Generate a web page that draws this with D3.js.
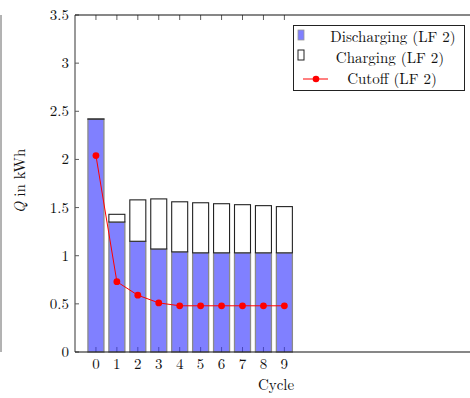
<!DOCTYPE html>
<html>
<head>
<meta charset="utf-8">
<script src="https://cdn.jsdelivr.net/npm/d3@7"></script>
<style>
 body { margin: 0; background: #fff; }
 text { font-family: "Latin Modern Roman", "Liberation Serif", serif; fill: #111; }
</style>
</head>
<body>
<svg id="chart" width="470" height="398"></svg>
<script>
// data
var cycles = [0, 1, 2, 3, 4, 5, 6, 7, 8, 9]
var discharging = [2.42, 1.35, 1.15, 1.07, 1.04, 1.03, 1.03, 1.03, 1.03, 1.03]
var charging = [0.0, 0.08, 0.43, 0.52, 0.52, 0.52, 0.51, 0.50, 0.49, 0.48]
var cutoff = [2.04, 0.73, 0.59, 0.51, 0.48, 0.48, 0.48, 0.48, 0.48, 0.48]
var yTicks = [0, 0.5, 1, 1.5, 2, 2.5, 3, 3.5]

var svg = d3.select("#chart")
var pLeft = 75, pRight = 477, pTop = 15, pBottom = 352

// linear x so cycle 0 sits one unit in from the axis
var x = d3.scaleLinear().domain([-1, 18.2]).range([pLeft, pRight])
var y = d3.scaleLinear().domain([0, 3.5]).range([pBottom, pTop])
var bw = 16
var fs = 15

// stray frame line at the very left
svg.append("line").attr("x1", 1).attr("x2", 1).attr("y1", pTop).attr("y2", pBottom)
   .attr("stroke", "#666").attr("stroke-width", 1)

var g = svg.append("g")

// discharging bars
g.selectAll("rect.dis")
   .data(cycles)
   .enter().append("rect")
   .attr("class", "dis")
   .attr("x", function(d){ return x(d) - bw/2 })
   .attr("width", bw)
   .attr("y", function(d, i){ return y(discharging[i]) })
   .attr("height", function(d, i){ return y(0) - y(discharging[i]) })
   .attr("fill", "#8080ff")
   .attr("stroke", "#8a8a8a")
   .attr("stroke-width", 1.3)

// charging bars stacked on top (zero ones still show their edge)
g.selectAll("rect.chg")
   .data(cycles)
   .enter().append("rect")
   .attr("class", "chg")
   .attr("x", function(d){ return x(d) - bw/2 })
   .attr("width", bw)
   .attr("y", function(d, i){ return y(discharging[i] + charging[i]) })
   .attr("height", function(d, i){ return Math.max(0.2, y(discharging[i]) - y(discharging[i] + charging[i])) })
   .attr("fill", "#fff")
   .attr("stroke", "#222")
   .attr("stroke-width", 1.1)

// x ticks: inward at bottom and top
cycles.forEach(function(c){
    g.append("line").attr("x1", x(c)).attr("x2", x(c)).attr("y1", pBottom).attr("y2", pBottom - 5)
     .attr("stroke", "#3a3aa8").attr("stroke-width", 0.8)
    g.append("line").attr("x1", x(c)).attr("x2", x(c)).attr("y1", pTop).attr("y2", pTop + 5)
     .attr("stroke", "#333").attr("stroke-width", 0.8)
    g.append("text").attr("x", x(c)).attr("y", pBottom + 17)
     .attr("text-anchor", "middle").attr("font-size", fs).text(c)
})

// y ticks and labels
yTicks.forEach(function(t){
    g.append("line").attr("x1", pLeft).attr("x2", pLeft + 4).attr("y1", y(t)).attr("y2", y(t))
     .attr("stroke", "#333").attr("stroke-width", 0.8)
    g.append("text").attr("x", pLeft - 6).attr("y", y(t) + 5)
     .attr("text-anchor", "end").attr("font-size", fs).text(t)
})

// axis lines
g.append("line").attr("x1", pLeft).attr("x2", pLeft).attr("y1", pTop).attr("y2", pBottom)
   .attr("stroke", "#555").attr("stroke-width", 1.2)
g.append("line").attr("x1", pLeft).attr("x2", 470).attr("y1", pBottom).attr("y2", pBottom)
   .attr("stroke", "#111").attr("stroke-width", 1.2)
g.append("line").attr("x1", pLeft).attr("x2", 470).attr("y1", pTop).attr("y2", pTop)
   .attr("stroke", "#111").attr("stroke-width", 1.2)

// cutoff line
var line = d3.line()
   .x(function(d, i){ return x(cycles[i]) })
   .y(function(d){ return y(d) })
g.append("path").datum(cutoff).attr("d", line)
   .attr("fill", "none").attr("stroke", "#ff0000").attr("stroke-width", 1)
g.selectAll("circle.cut")
   .data(cutoff)
   .enter().append("circle")
   .attr("class", "cut")
   .attr("cx", function(d, i){ return x(cycles[i]) })
   .attr("cy", function(d){ return y(d) })
   .attr("r", 3.4)
   .attr("fill", "#ff0000")

// axis labels
var yl = svg.append("text")
   .attr("transform", "translate(25,181) rotate(-90)")
   .attr("text-anchor", "middle").attr("font-size", fs)
yl.append("tspan").attr("font-style", "italic").text("Q")
yl.append("tspan").text(" in kWh")
svg.append("text").attr("x", 276).attr("y", 390).attr("text-anchor", "middle")
   .attr("font-size", fs).text("Cycle")

// legend
var lg = svg.append("g")
lg.append("rect").attr("x", 293.5).attr("y", 25.5).attr("width", 171).attr("height", 65)
   .attr("fill", "#fff").attr("stroke", "#222").attr("stroke-width", 1)
lg.append("rect").attr("x", 298).attr("y", 30).attr("width", 6).attr("height", 10)
   .attr("fill", "#8080ff").attr("stroke", "#999").attr("stroke-width", 0.8)
lg.append("rect").attr("x", 298).attr("y", 50).attr("width", 6).attr("height", 10)
   .attr("fill", "#fff").attr("stroke", "#222").attr("stroke-width", 1)
lg.append("line").attr("x1", 303).attr("x2", 328).attr("y1", 79).attr("y2", 79)
   .attr("stroke", "#ff0000").attr("stroke-width", 1)
lg.append("circle").attr("cx", 316).attr("cy", 79).attr("r", 3.3).attr("fill", "#ff0000")
var legendText = ["Discharging (LF 2)", "Charging (LF 2)", "Cutoff (LF 2)"]
var legendX = [393, 390, 392]
legendText.forEach(function(t, i){
    lg.append("text").attr("x", legendX[i]).attr("y", 42 + i * 21)
      .attr("text-anchor", "middle").attr("font-size", fs).text(t)
})
</script>
</body>
</html>
